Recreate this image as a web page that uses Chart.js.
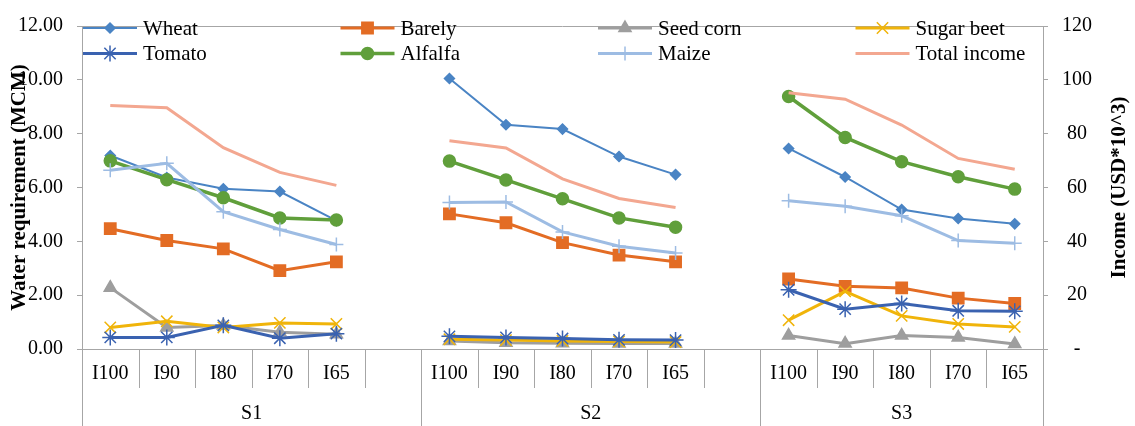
<!DOCTYPE html>
<html>
<head>
<meta charset="utf-8">
<script src="https://cdn.jsdelivr.net/npm/chart.js@4.4.1/dist/chart.umd.min.js"></script>
<style>
  html, body { margin: 0; padding: 0; background: #fff; }
</style>
</head>
<body>
<canvas id="waterChart" width="1135" height="426"></canvas>
<script>
const levels = ['I100', 'I90', 'I80', 'I70', 'I65'];
const scenarios = ['S1', 'S2', 'S3'];

// water requirement (MCM), five levels per scenario: S1 | S2 | S3
const wheat      = [7.19, 6.37, 5.95, 5.85, 4.77,  10.05, 8.33, 8.17, 7.15, 6.48,  7.45, 6.39, 5.18, 4.85, 4.65];
const barely     = [4.47, 4.03, 3.72, 2.91, 3.24,  5.02, 4.69, 3.95, 3.49, 3.24,  2.60, 2.33, 2.27, 1.89, 1.69];
const seedCorn   = [2.28, 0.80, 0.87, 0.62, 0.55,  0.30, 0.23, 0.21, 0.20, 0.20,  0.50, 0.20, 0.50, 0.43, 0.19];
const sugarBeet  = [0.80, 1.03, 0.80, 0.97, 0.93,  0.36, 0.33, 0.30, 0.28, 0.26,  1.07, 2.14, 1.23, 0.93, 0.82];
const tomato     = [0.43, 0.43, 0.88, 0.40, 0.57,  0.47, 0.43, 0.39, 0.34, 0.33,  2.20, 1.48, 1.69, 1.42, 1.40];
const alfalfa    = [6.99, 6.29, 5.62, 4.87, 4.79,  6.98, 6.28, 5.58, 4.87, 4.52,  9.38, 7.86, 6.96, 6.40, 5.94];
const maize      = [6.64, 6.90, 5.10, 4.44, 3.88,  5.44, 5.46, 4.35, 3.82, 3.57,  5.51, 5.30, 4.95, 4.03, 3.93];
// income (USD*10^3)
const totalIncome = [90.5, 89.6, 74.8, 65.6, 60.8,  77.4, 74.7, 63.2, 55.9, 52.6,  95.2, 92.8, 83.2, 70.8, 66.8];

// one blank category between scenarios so the lines break
function spread(vals) {
  const out = [];
  scenarios.forEach((s, g) => {
    out.push(...vals.slice(g * levels.length, (g + 1) * levels.length));
    if (g < scenarios.length - 1) out.push(null);
  });
  return out;
}
const xLabels = spread(scenarios.flatMap(() => levels)).map(v => v === null ? '' : v);

const gridColor = '#A6A6A6';
const serif = '"Liberation Serif", "Times New Roman", serif';

function series(label, values, color, style, radius, lineWidth, extra) {
  return Object.assign({
    label: label,
    data: spread(values),
    borderColor: color,
    backgroundColor: color,
    pointBackgroundColor: color,
    pointBorderColor: color,
    borderWidth: lineWidth,
    pointStyle: style,
    pointRadius: radius,
    pointBorderWidth: 1.5,
    tension: 0,
    spanGaps: false,
    yAxisID: 'y'
  }, extra || {});
}

const datasets = [
  series('Wheat', wheat, '#4A84C4', 'rectRot', 5, 2),
  series('Barely', barely, '#E36C24', 'rect', 8, 3),
  series('Seed corn', seedCorn, '#9E9E9E', 'triangle', 7, 3),
  series('Sugar beet', sugarBeet, '#F0B40A', 'crossRot', 8, 3),
  series('Tomato', tomato, '#3A62B0', 'star', 8, 3),
  series('Alfalfa', alfalfa, '#609F3B', 'circle', 6, 3.5),
  series('Maize', maize, '#9DBCE3', 'cross', 7, 3),
  series('Total income', totalIncome, '#F3A790', 'circle', 0, 3, { yAxisID: 'y1' })
];
// later series sit on top, as in the original
datasets.forEach((d, i) => { d.order = 20 - i; });

// group axis, plot frame, legend and right title
const decor = {
  id: 'decor',
  afterDraw(chart) {
    const { ctx, chartArea: a, scales: { x } } = chart;
    const w = x.getPixelForValue(1) - x.getPixelForValue(0);
    const edge = i => x.getPixelForValue(0) - w / 2 + i * w;
    const groupEdges = [0];
    scenarios.forEach((s, g) => groupEdges.push(groupEdges[g] + levels.length + (g < scenarios.length - 1 ? 1 : 0)));

    ctx.save();
    ctx.strokeStyle = gridColor;
    ctx.lineWidth = 1;
    ctx.beginPath();
    for (let i = 0; i <= xLabels.length; i++) {
      const px = Math.round(edge(i)) + 0.5;
      ctx.moveTo(px, a.bottom);
      ctx.lineTo(px, groupEdges.includes(i) ? chart.height : a.bottom + 39);
    }
    ctx.moveTo(a.left, Math.round(a.top) + 0.5);
    ctx.lineTo(a.right, Math.round(a.top) + 0.5);
    ctx.stroke();

    ctx.fillStyle = '#000';
    ctx.font = '20px ' + serif;
    ctx.textAlign = 'center';
    ctx.textBaseline = 'middle';
    scenarios.forEach((s, g) => {
      ctx.fillText(s, (edge(groupEdges[g]) + edge(groupEdges[g + 1])) / 2, 414);
    });

    // legend inside the plot, four columns
    const colW = 257.5;
    chart.data.datasets.forEach((d, i) => {
      const x0 = a.left + 1 + (i % 4) * colW;
      const y0 = 28 + Math.floor(i / 4) * 25.5;
      ctx.strokeStyle = d.borderColor;
      ctx.lineWidth = d.borderWidth;
      ctx.beginPath();
      ctx.moveTo(x0, y0);
      ctx.lineTo(x0 + 54, y0);
      ctx.stroke();
      if (d.pointRadius > 0) {
        ctx.fillStyle = d.borderColor;
        ctx.lineWidth = d.pointBorderWidth;
        Chart.helpers.drawPoint(ctx, { pointStyle: d.pointStyle, radius: d.pointRadius, borderWidth: d.pointBorderWidth, rotation: 0 }, x0 + 27, y0);
      }
      ctx.fillStyle = '#000';
      ctx.font = '21px ' + serif;
      ctx.textAlign = 'left';
      ctx.fillText(d.label, x0 + 60, y0 + 1);
    });

    // right axis title reads bottom to top
    ctx.translate(1120, (a.top + a.bottom) / 2);
    ctx.rotate(-Math.PI / 2);
    ctx.font = 'bold 21px ' + serif;
    ctx.textAlign = 'center';
    ctx.fillText('Income (USD*10^3)', 0, 0);
    ctx.restore();
  }
};

new Chart(document.getElementById('waterChart'), {
  type: 'line',
  data: { labels: xLabels, datasets: datasets },
  options: {
    responsive: false,
    animation: false,
    devicePixelRatio: 1,
    layout: { padding: { top: 19, left: 0, right: 0, bottom: 0 } },
    plugins: { legend: { display: false }, tooltip: { enabled: false } },
    scales: {
      x: {
        type: 'category',
        offset: true,
        grid: { display: false, drawTicks: false },
        border: { display: true, color: gridColor, width: 1 },
        ticks: { autoSkip: false, maxRotation: 0, padding: 13, color: '#000', font: { family: serif, size: 20 } },
        afterFit(scale) { scale.height = 77; }
      },
      y: {
        position: 'left',
        min: 0, max: 12,
        ticks: { stepSize: 2, padding: 14, color: '#000', font: { family: serif, size: 20 }, callback: v => v.toFixed(2) },
        grid: { drawOnChartArea: false, drawTicks: true, tickLength: 5, color: gridColor },
        border: { display: true, color: gridColor, width: 1 },
        title: { display: true, text: 'Water requirement (MCM)', color: '#000', font: { family: serif, size: 21, weight: 'bold' }, padding: { top: 7, bottom: 0 } },
        afterFit(scale) { scale.width = 82; }
      },
      y1: {
        position: 'right',
        min: 0, max: 120,
        ticks: { stepSize: 20, padding: 14, crossAlign: 'center', color: '#000', font: { family: serif, size: 20 }, callback: v => v === 0 ? '-' : v },
        grid: { drawOnChartArea: false, drawTicks: true, tickLength: 5, color: gridColor },
        border: { display: true, color: gridColor, width: 1 },
        afterFit(scale) { scale.width = 92; }
      }
    }
  },
  plugins: [decor]
});
</script>
</body>
</html>
